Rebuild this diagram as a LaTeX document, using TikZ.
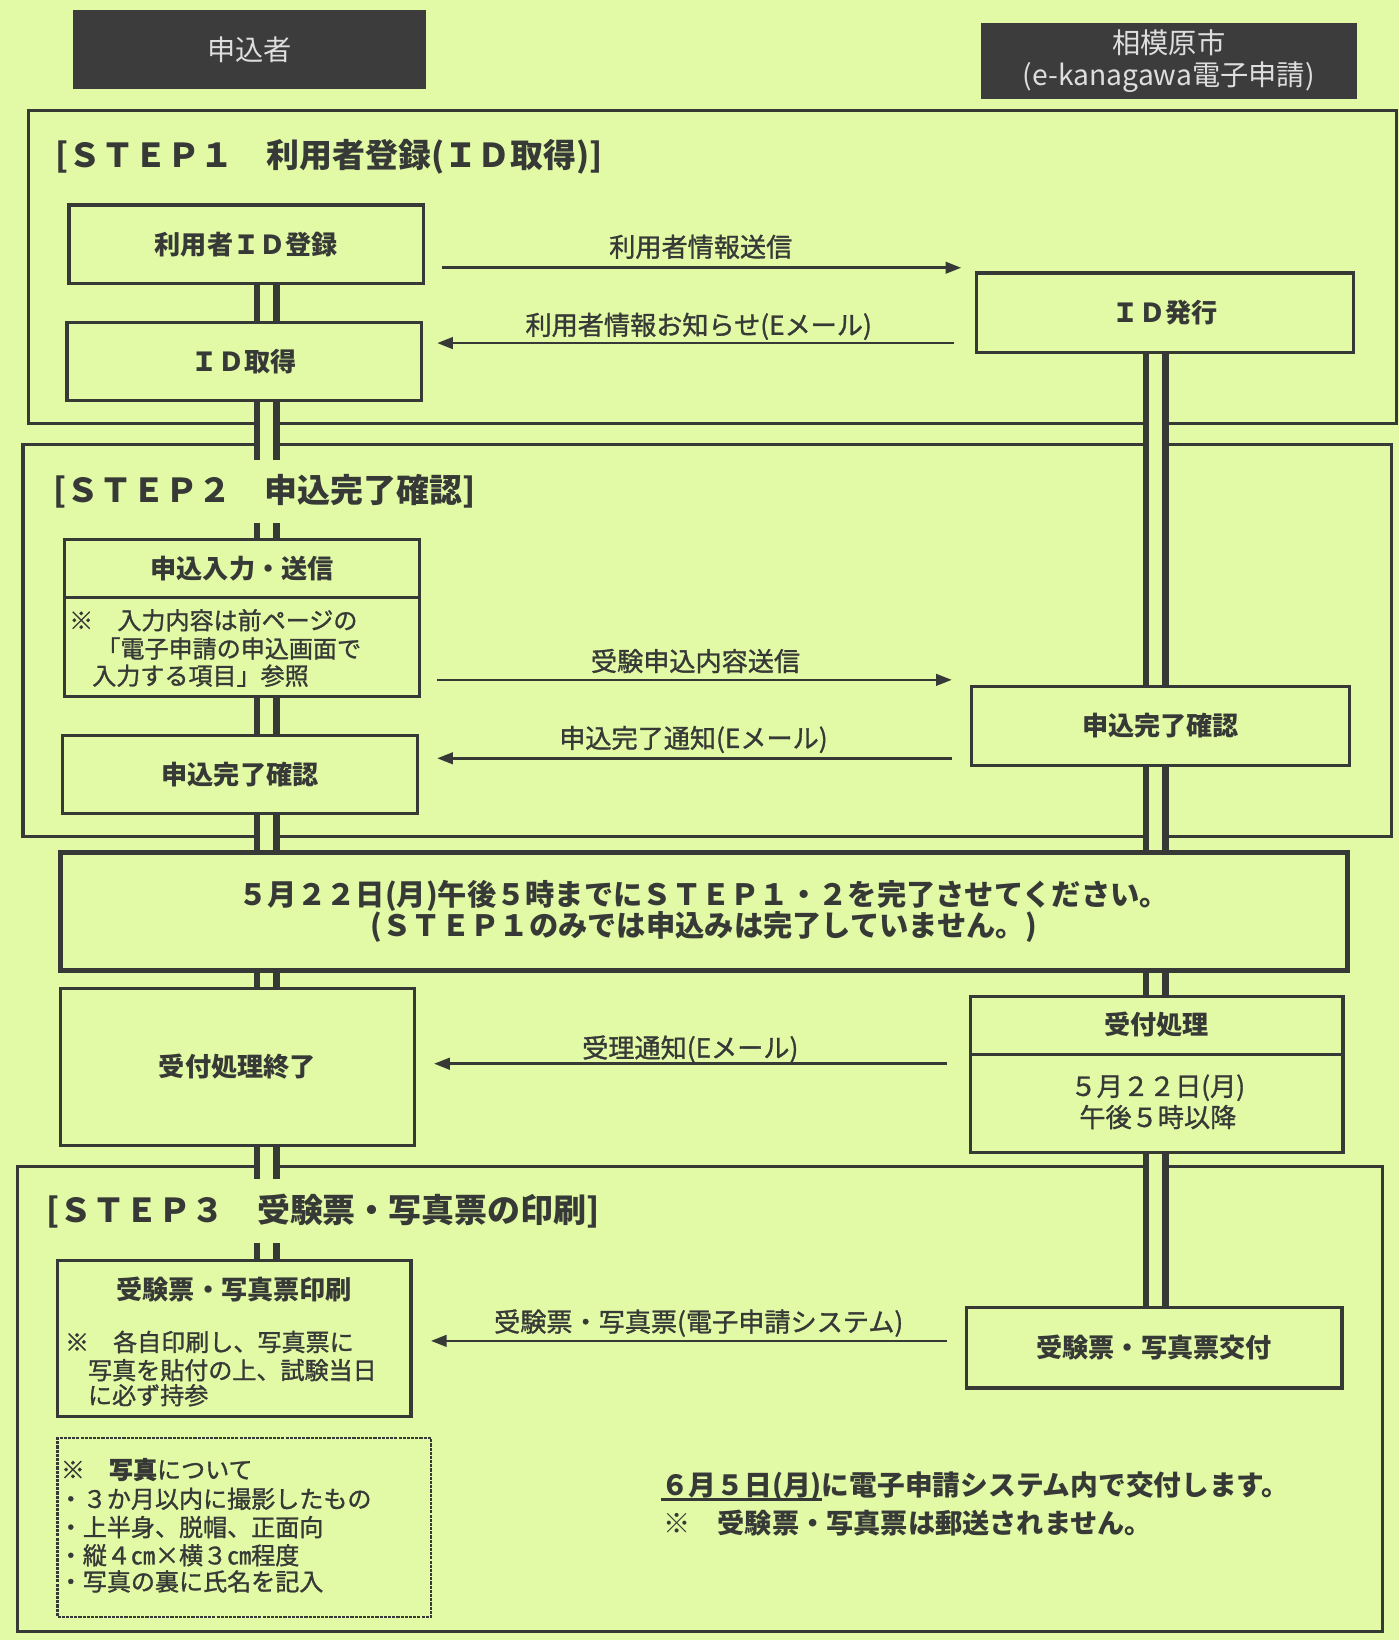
\documentclass[tikz,border=0pt]{standalone}
\usepackage{fontspec}
\setmainfont{Noto Sans CJK JP}
\newfontfamily\jpm{Noto Sans CJK JP}[FakeBold=1.2]
\usetikzlibrary{arrows.meta,calc}
\definecolor{bgc}{RGB}{226,250,166}
\definecolor{ink}{RGB}{55,57,55}
\definecolor{hdrc}{RGB}{60,60,60}
\definecolor{hdrtxt}{RGB}{222,222,222}
\pgfdeclarelayer{back}
\pgfdeclarelayer{mid}
\pgfsetlayers{back,mid,main}
\newcommand\ulmark[1]{\setbox0\hbox{#1}\rlap{\rule[-5pt]{\wd0}{2.5pt}}\box0}
\tikzset{
  box/.style={draw=ink, line width=3pt, inner sep=0pt, outer sep=0pt, anchor=north west, text=ink},
  boxh/.style={box, font=\fontsize{25}{30}\selectfont\bfseries},
  frm/.style={draw=ink, line width=3pt, inner sep=0pt, outer sep=0pt, anchor=north west},
  hbox/.style={fill=hdrc, inner sep=0pt, outer sep=0pt, anchor=north west, text=hdrtxt, align=center, font=\fontsize{27}{31}\selectfont},
  ttl/.style={fill=bgc, anchor=west, inner xsep=1pt, inner ysep=14pt, text=ink, font=\fontsize{31.5}{36}\selectfont\bfseries},
  hd/.style={text=ink, inner sep=0pt, font=\fontsize{25}{30}\selectfont\bfseries},
  nt/.style={text=ink, inner sep=0pt, anchor=west, font=\fontsize{23}{27}\selectfont\jpm},
  lbl/.style={text=ink, inner sep=0pt, font=\fontsize{25}{30}\selectfont\jpm},
  arr/.style={draw=ink, line width=2.5pt, -{Triangle[length=15pt,width=11pt]}},
  dbl/.style={draw=ink, line width=6.5pt, double=bgc, double distance=12pt},
  divl/.style={draw=ink, line width=3pt},
}
\begin{document}
\begin{tikzpicture}[x=1pt,y=-1pt]
\begin{pgfonlayer}{back}
\fill[bgc] (0,0) rectangle (1338,1568);
\end{pgfonlayer}
\useasboundingbox (0,0) rectangle (1338,1568);

% headers
\node[hbox, minimum width=337pt, minimum height=75pt] (h1) at (70,10) {申込者};
\node[hbox, minimum width=359pt, minimum height=73pt, font=\fontsize{27}{30}\selectfont] (h2) at (938,22) {相模原市\\(e-kanagawa電子申請)};

% frames
\begin{pgfonlayer}{back}
\node[frm, minimum width=1308pt, minimum height=299pt] (fr1) at (27,106) {};
\node[frm, minimum width=1308pt, minimum height=375pt] (fr2) at (22,425) {};
\node[frm, minimum width=1305pt, minimum height=445pt] (fr3) at (17,1115) {};
\end{pgfonlayer}

% STEP1
\node[boxh, minimum width=339pt, minimum height=75pt] (b1) at (66,196) {利用者ＩＤ登録};
\node[boxh, minimum width=339pt, minimum height=75pt] (b2) at (64,308) {ＩＤ取得};
\node[boxh, minimum width=360pt, minimum height=76pt] (r1) at (934,261) {ＩＤ発行};

% STEP2
\node[box, minimum width=339pt, minimum height=150pt] (b3) at (62,516) {};
\draw[divl] ($(b3.north west)+(0,55)$) -- ($(b3.north east)+(0,55)$);
\node[hd] (b3h) at ($(b3.north)+(0,28)$) {申込入力・送信};
\node[nt] (b3n1) at (66,593) {※　入力内容は前ページの};
\node[nt] (b3n2) at (92,620) {「電子申請の申込画面で};
\node[nt] (b3n3) at (88,646) {入力する項目」参照};
\node[boxh, minimum width=339pt, minimum height=75pt] (b4) at (60,703) {申込完了確認};
\node[boxh, minimum width=361pt, minimum height=76pt] (r2) at (929,656) {申込完了確認};

% deadline
\node[box, line width=5pt, minimum width=1230pt, minimum height=113pt, align=center, font=\fontsize{28}{30}\selectfont\bfseries] (dl) at (58,815) {５月２２日(月)午後５時までにＳＴＥＰ１・２を完了させてください。\\(ＳＴＥＰ１のみでは申込みは完了していません。)};

\node[boxh, minimum width=338pt, minimum height=150pt] (b5) at (58,945) {受付処理終了};
\node[box, minimum width=356pt, minimum height=149pt] (r3) at (928,953) {};
\draw[divl] ($(r3.north west)+(0,55)$) -- ($(r3.north east)+(0,55)$);
\node[hd] (r3h) at ($(r3.north)+(0,27)$) {受付処理};
\node[lbl, font=\fontsize{25}{28}\selectfont\jpm] (r3d1) at (1107,1040) {５月２２日(月)};
\node[lbl, font=\fontsize{25}{28}\selectfont\jpm] (r3d2) at (1107,1068) {午後５時以降};

% STEP3
\node[box, minimum width=338pt, minimum height=149pt] (b6) at (55,1205) {};
\node[hd] (b6h) at ($(b6.north)+(0,28)$) {受験票・写真票印刷};
\node[nt] (b6n1) at (62,1283) {※　各自印刷し、写真票に};
\node[nt] (b6n2) at (84,1310) {写真を貼付の上、試験当日};
\node[nt] (b6n3) at (84,1334) {に必ず持参};
\node[box, line width=2.5pt, dash pattern=on 3pt off 1pt, minimum width=357pt, minimum height=171pt] (b7) at (55,1375) {};
\node[nt] (b7n1) at (58,1405) {※　{\bfseries 写真}について};
\node[nt] (b7n2) at (56,1433) {・３か月以内に撮影したもの};
\node[nt] (b7n3) at (56,1460) {・上半身、脱帽、正面向};
\node[nt] (b7n4) at (56,1487) {・縦４㎝×横３㎝程度};
\node[nt] (b7n5) at (56,1512) {・写真の裏に氏名を記入};
\node[boxh, minimum width=359pt, minimum height=77pt] (r4) at (924,1250) {受験票・写真票交付};

\node[hd, anchor=west, font=\fontsize{26.5}{30}\selectfont\bfseries] (m1) at (632,1421) {\ulmark{６月５日(月)}に電子申請システム内で交付します。};
\node[hd, anchor=west, font=\fontsize{26}{30}\selectfont\bfseries] (m2) at (634,1456) {※　受験票・写真票は郵送されません。};

% double connectors
\coordinate (Lx) at (255,0);
\coordinate (Rx) at (1105,0);
\begin{pgfonlayer}{mid}
\draw[dbl] (b1.south -| Lx) -- (b2.north -| Lx);
\draw[dbl] (b2.south -| Lx) -- (b3.north -| Lx);
\draw[dbl] (b3.south -| Lx) -- (b4.north -| Lx);
\draw[dbl] (b4.south -| Lx) -- (dl.north -| Lx);
\draw[dbl] (dl.south -| Lx) -- (b5.north -| Lx);
\draw[dbl] (b5.south -| Lx) -- (b6.north -| Lx);
\draw[dbl] (r1.south -| Rx) -- (r2.north -| Rx);
\draw[dbl] (r2.south -| Rx) -- (dl.north -| Rx);
\draw[dbl] (dl.south -| Rx) -- (r3.north -| Rx);
\draw[dbl] (r3.south -| Rx) -- (r4.north -| Rx);
\end{pgfonlayer}

% titles (mask the connectors)
\node[ttl] (T1) at (52,150) {[ＳＴＥＰ１　利用者登録(ＩＤ取得)]};
\node[ttl] (T2) at (50,470) {[ＳＴＥＰ２　申込完了確認]};
\node[ttl] (T3) at (43,1158) {[ＳＴＥＰ３　受験票・写真票の印刷]};

% arrows
\coordinate (a1s) at ($(b1.east)+(18,22.5)$);
\draw[arr, shorten >=15pt] (a1s) -- (a1s -| r1.west);
\coordinate (a2t) at ($(b2.east)+(15,-17.5)$);
\draw[arr, shorten <=22pt] (a2t -| r1.west) -- (a2t);
\coordinate (a3s) at ($(b3.east)+(17,59)$);
\draw[arr, shorten >=19pt] (a3s) -- (a3s -| r2.west);
\coordinate (a4t) at ($(b4.east)+(19,-15.5)$);
\draw[arr, shorten <=19pt] (a4t -| r2.west) -- (a4t);
\coordinate (a5t) at ($(b5.east)+(19,-3)$);
\draw[arr, shorten <=23pt] (a5t -| r3.west) -- (a5t);
\coordinate (a6t) at ($(b6.east)+(19,2.5)$);
\draw[arr, shorten <=19pt] (a6t -| r4.west) -- (a6t);

\node[lbl] (l1) at (670,236) {利用者情報送信};
\node[lbl] (l2) at (668,312) {利用者情報お知らせ(Eメール)};
\node[lbl] (l3) at (665,632) {受験申込内容送信};
\node[lbl] (l4) at (663,707) {申込完了通知(Eメール)};
\node[lbl] (l5) at (660,1003) {受理通知(Eメール)};
\node[lbl] (l6) at (668,1265) {受験票・写真票(電子申請システム)};
\end{tikzpicture}
\end{document}
